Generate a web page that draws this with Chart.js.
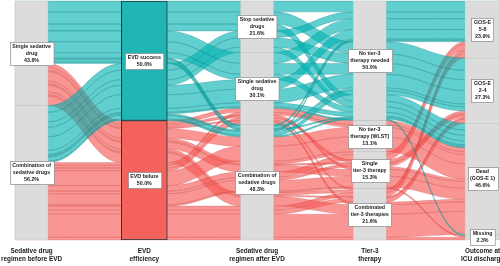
<!DOCTYPE html>
<html>
<head>
<meta charset="utf-8">
<style>
  html, body { margin:0; padding:0; background:#fff; }
  #wrap { width:500px; height:266px; }
</style>
</head>
<body>
<div id="wrap"><canvas id="alluvial" width="500" height="266"></canvas></div>
<script src="https://cdn.jsdelivr.net/npm/chart.js@4.4.1/dist/chart.umd.min.js"></script>
<script>
// Alluvial plot: sedative regimen -> EVD efficiency -> regimen after -> tier-3 -> outcome

const axisTitles = [
  ['Sedative drug', 'regimen before EVD'],
  ['EVD', 'efficiency'],
  ['Sedative drug', 'regimen after EVD'],
  ['Tier-3', 'therapy'],
  ['Outcome at', 'ICU discharge']
];

const strataLabels = [
  [['Single sedative', 'drug'], ['Combination of', 'sedative drugs']],
  [['EVD success'], ['EVD failure']],
  [['Stop sedative', 'drugs'], ['Single sedative', 'drug'], ['Combination of', 'sedative drugs']],
  [['No tier-3', 'therapy needed'], ['No tier-3', 'therapy (WLST)'], ['Single', 'tier-3 therapy'], ['Combinated', 'tier-3 therapies']],
  [['GOS-E', '5-8'], ['GOS-E', '2-4'], ['Dead', '(GOS-E 1)'], ['Missing']]
];

const strataPct = [
  ['43.8%', '56.2%'],
  ['50.0%', '50.0%'],
  ['21.6%', '30.1%', '48.3%'],
  ['50.0%', '13.1%', '15.3%', '21.6%'],
  ['23.9%', '27.3%', '46.6%', '2.3%']
];

// one row per alluvium: [before, EVD, after, tier3, outcome, patients]
const successPaths = [
  [0,0,0,0,0,8], [0,0,0,0,1,9], [0,0,0,0,2,5],
  [1,0,0,0,0,5], [1,0,0,0,1,7], [1,0,0,0,2,4],
  [0,0,1,0,0,8], [0,0,1,0,1,8], [0,0,1,0,2,4],
  [1,0,1,0,0,7], [1,0,1,0,1,10], [1,0,1,0,2,3], [1,0,1,0,3,1],
  [0,0,2,0,0,1], [0,0,2,0,1,2], [0,0,2,0,2,1],
  [1,0,2,0,0,1], [1,0,2,0,1,3], [1,0,2,0,2,1]
];
const failurePaths = [
  [0,1,1,1,2,3], [0,1,1,2,2,2], [0,1,1,3,0,1],
  [1,1,1,1,2,2], [1,1,1,2,1,2], [1,1,1,3,2,2],
  [0,1,2,1,2,7],
  [0,1,2,2,0,2], [0,1,2,2,1,1], [0,1,2,2,2,5],
  [0,1,2,3,0,2], [0,1,2,3,1,1], [0,1,2,3,2,7],
  [1,1,2,1,2,11],
  [1,1,2,2,0,4], [1,1,2,2,1,2], [1,1,2,2,2,8], [1,1,2,2,3,1],
  [1,1,2,3,0,3], [1,1,2,3,1,3], [1,1,2,3,2,17], [1,1,2,3,3,2]
];

const paths = failurePaths.concat(successPaths);
const nAxes = axisTitles.length;
const total = paths.reduce((s, p) => s + p[5], 0);

// styles
const barW = [33, 46, 33, 33, 35];
const flowFill = ['rgba(0,178,178,0.62)', 'rgba(245,85,80,0.62)'];
const flowLine = ['rgba(20,120,120,0.45)', 'rgba(190,60,58,0.4)'];
const evdFill = ['#20b4b4', '#f3625d'];

// stratum extents per axis
const strataCounts = strataLabels.map((s, a) => s.map((_, k) =>
  paths.filter(p => p[a] === k).reduce((t, p) => t + p[5], 0)));
const strataRanges = strataCounts.map(cs => {
  let c = 0;
  return cs.map(n => { const r = [c, c + n]; c += n; return r; });
});

// zigzag lode guidance: start toward the closer end
function zigzag(i){
  const left = [], right = [];
  for (let j = i - 1; j >= 0; j--) left.push(j);
  for (let j = i + 1; j < nAxes; j++) right.push(j);
  const first = (i <= (nAxes - 1) / 2) ? left : right;
  const second = first === left ? right : left;
  const out = [];
  for (let k = 0; k < Math.max(left.length, right.length); k++){
    if (first[k] !== undefined) out.push(first[k]);
    if (second[k] !== undefined) out.push(second[k]);
  }
  return out;
}

// lode positions [axis][path] = [top, bottom] in patient units
const lodes = [];
for (let a = 0; a < nAxes; a++){
  const keys = [a].concat(zigzag(a));
  const idx = paths.map((_, i) => i).sort((i, j) => {
    for (const k of keys){ if (paths[i][k] !== paths[j][k]) return paths[i][k] - paths[j][k]; }
    return i - j;
  });
  const pos = [];
  let c = 0;
  idx.forEach(i => { pos[i] = [c, c + paths[i][5]]; c += paths[i][5]; });
  lodes.push(pos);
}

const alluviaPlugin = {
  id: 'alluvia',
  beforeDatasetsDraw(chart){
    const { ctx, scales: { x, y } } = chart;
    ctx.save();
    paths.forEach((p, i) => {
      const xc = [], top = [], bot = [];
      for (let a = 0; a < nAxes; a++){
        xc.push(x.getPixelForValue(a + 1));
        top.push(y.getPixelForValue(lodes[a][i][0]));
        bot.push(y.getPixelForValue(lodes[a][i][1]));
      }
      ctx.beginPath();
      ctx.moveTo(xc[0] - barW[0] / 2, top[0]);
      for (let a = 0; a < nAxes; a++){
        const xr = xc[a] + barW[a] / 2;
        ctx.lineTo(xr, top[a]);
        if (a < nAxes - 1){
          const xl = xc[a + 1] - barW[a + 1] / 2, d = (xl - xr) * 0.42;
          ctx.bezierCurveTo(xr + d, top[a], xl - d, top[a + 1], xl, top[a + 1]);
        }
      }
      for (let a = nAxes - 1; a >= 0; a--){
        const xl = xc[a] - barW[a] / 2;
        ctx.lineTo(xl, bot[a]);
        if (a > 0){
          const xr = xc[a - 1] + barW[a - 1] / 2, d = (xl - xr) * 0.42;
          ctx.bezierCurveTo(xl - d, bot[a], xr + d, bot[a - 1], xr, bot[a - 1]);
        }
      }
      ctx.closePath();
      ctx.fillStyle = flowFill[p[1]];
      ctx.fill();
      ctx.strokeStyle = flowLine[p[1]];
      ctx.lineWidth = 0.6;
      ctx.stroke();
    });
    ctx.restore();
  },
  afterDatasetsDraw(chart){
    const { ctx, scales: { x, y } } = chart;
    ctx.save();
    ctx.font = 'bold 5.3px "Liberation Sans", Arial, sans-serif';
    ctx.textAlign = 'center';
    ctx.textBaseline = 'middle';
    strataLabels.forEach((list, a) => {
      list.forEach((lines, k) => {
        const txt = lines.concat([strataPct[a][k]]);
        const cx = x.getPixelForValue(a + 1);
        const r = strataRanges[a][k];
        const cy = y.getPixelForValue((r[0] + r[1]) / 2);
        const lh = 7;
        const w = Math.max(...txt.map(t => ctx.measureText(t).width)) + 5;
        const h = txt.length * lh + 2;
        const bx = Math.round(cx - w / 2) + 0.5, by = Math.round(cy - h / 2) + 0.5;
        ctx.fillStyle = '#ffffff';
        ctx.fillRect(bx, by, w, h);
        ctx.strokeStyle = '#8a8a8a';
        ctx.lineWidth = 0.7;
        ctx.strokeRect(bx, by, w, h);
        ctx.fillStyle = '#222';
        txt.forEach((t, j) => ctx.fillText(t, cx, by + 1 + lh * (j + 0.5)));
      });
    });
    ctx.restore();
  },
  afterDraw(chart){
    const { ctx, scales: { x } } = chart;
    ctx.save();
    ctx.font = 'bold 6.4px "Liberation Sans", Arial, sans-serif';
    ctx.textAlign = 'center';
    ctx.textBaseline = 'middle';
    ctx.fillStyle = '#1a1a1a';
    axisTitles.forEach((lines, a) => {
      lines.forEach((t, j) => ctx.fillText(t, x.getPixelForValue(a + 1), 251 + j * 8));
    });
    ctx.restore();
  }
};

const datasets = strataRanges.map((ranges, a) => ({
  data: ranges.map(r => ({ x: a + 1, y: r })),
  backgroundColor: ranges.map((_, k) => a === 1 ? evdFill[k] : '#dcdcdc'),
  borderColor: a === 1 ? '#1d3a3a' : '#c4c4c4',
  borderWidth: a === 1 ? 1 : 0.6,
  borderSkipped: false,
  barThickness: barW[a],
  grouped: false
}));

new Chart(document.getElementById('alluvial'), {
  type: 'bar',
  data: { datasets },
  options: {
    responsive: false,
    animation: false,
    layout: { padding: { top: 1, bottom: 26, left: 0, right: 0 } },
    plugins: { legend: { display: false }, tooltip: { enabled: false } },
    scales: {
      x: { type: 'linear', offset: false, min: 0.72, max: 5.155, display: false },
      y: { min: 0, max: total, reverse: true, display: false }
    }
  },
  plugins: [alluviaPlugin]
});
</script>
</body>
</html>
